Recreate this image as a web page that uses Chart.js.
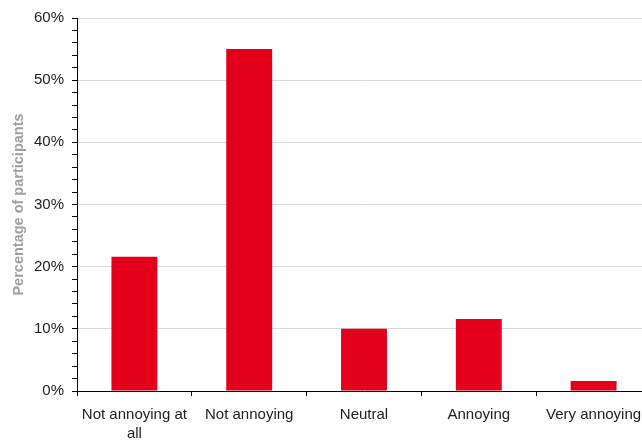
<!DOCTYPE html>
<html>
<head>
<meta charset="utf-8">
<script src="https://cdn.jsdelivr.net/npm/chart.js@4"></script>
<style>
  html, body { margin: 0; padding: 0; background: #fff; overflow: hidden; }
  #wrap { width: 660px; height: 443px; }
</style>
</head>
<body>
<div id="wrap"><canvas id="c" width="660" height="443"></canvas></div>
<script>
// Survey responses: how annoying participants found it
const categories = [['Not annoying at', 'all'], 'Not annoying', 'Neutral', 'Annoying', 'Very annoying'];
const shares = [21.6, 55.0, 10.0, 11.6, 1.6];
const yMax = 60;
const yStep = 2;        // minor tick spacing
const yLabelEvery = 10; // labelled ticks and gridlines

const FONT = '"Liberation Sans", Arial, sans-serif';

new Chart(document.getElementById('c'), {
  type: 'bar',
  data: {
    labels: categories,
    datasets: [{
      data: shares,
      backgroundColor: '#e2001a',
      borderWidth: 0,
      categoryPercentage: 1.0,
      barPercentage: 0.4
    }]
  },
  options: {
    responsive: false,
    animation: false,
    layout: { padding: { top: 18, right: 9, left: 0, bottom: 0 } },
    plugins: { legend: { display: false }, tooltip: { enabled: false } },
    scales: {
      x: {
        offset: true,
        grid: {
          offset: true,
          drawOnChartArea: false,
          tickColor: '#000',
          tickLength: 5
        },
        border: { color: '#000', width: 1 },
        ticks: {
          color: '#222',
          font: { family: FONT, size: 15, lineHeight: 1.3 },
          padding: 9,
          maxRotation: 0,
          autoSkip: false
        },
        afterFit: s => { s.height = 52; }
      },
      y: {
        min: 0,
        max: yMax,
        grid: {
          color: c => (c.tick && c.tick.value % yLabelEvery === 0 && c.tick.value !== 0) ? '#d9d9d9' : 'rgba(0,0,0,0)',
          tickColor: '#000',
          tickLength: 5,
          lineWidth: 1
        },
        border: { color: '#000', width: 1 },
        ticks: {
          stepSize: yStep,
          autoSkip: false,
          color: '#222',
          font: { family: FONT, size: 15 },
          padding: 8,
          callback: v => (v % yLabelEvery === 0 ? v + '%' : '')
        },
        title: {
          display: true,
          text: 'Percentage of participants',
          color: '#a0a0a0',
          font: { family: FONT, size: 14.5, weight: 'bold' },
          padding: { top: 10, bottom: 0 }
        },
        afterFit: s => { s.width = 77; }
      }
    }
  }
});
</script>
</body>
</html>
